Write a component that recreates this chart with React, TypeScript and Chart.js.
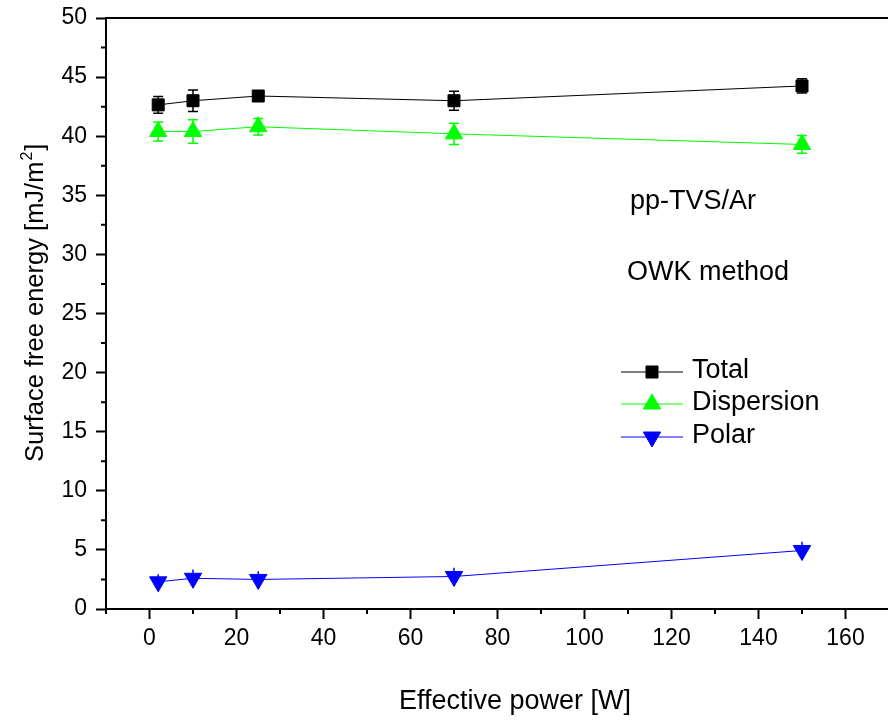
import React, { useEffect, useRef } from 'react';
import { Chart, registerables } from 'chart.js';

Chart.register(...registerables);

// ---- data ----
const POWER = [2, 10, 25, 70, 150];
const TOTAL = [42.65, 43.0, 43.4, 43.0, 44.25];
const TOTAL_ERR = [0.7, 0.9, 0.3, 0.8, 0.6];
const DISPERSION = [40.4, 40.4, 40.8, 40.2, 39.3];
const DISPERSION_ERR = [0.8, 1.0, 0.7, 0.9, 0.75];
const POLAR = [2.3, 2.6, 2.5, 2.75, 4.95];
const POLAR_ERR = [0.65, 0.75, 0.7, 0.75, 0.75];

const X_TICKS = [0, 20, 40, 60, 80, 100, 120, 140, 160];
const X_MINOR = [-10, 10, 30, 50, 70, 90, 110, 130, 150, 170];
const Y_TICKS = [0, 5, 10, 15, 20, 25, 30, 35, 40, 45, 50];
const Y_MINOR = [2.5, 7.5, 12.5, 17.5, 22.5, 27.5, 32.5, 37.5, 42.5, 47.5];

const SERIES_NAMES = ['Total', 'Dispersion', 'Polar'];
const SERIES_COLORS = ['#000000', '#00ff00', '#0000ff'];

const X_TITLE = 'Effective power [W]';
const Y_TITLE = 'Surface free energy [mJ/m';
const Y_TITLE_SUP = '2';
const Y_TITLE_END = ']';
const NOTES = ['pp-TVS/Ar', 'OWK method'];

const FONT = '"Liberation Sans", Arial, Helvetica, sans-serif';

function drawMarker(ctx: CanvasRenderingContext2D, style: string, x: number, y: number, r: number, color: string) {
  ctx.save();
  ctx.fillStyle = color;
  ctx.strokeStyle = color;
  ctx.lineWidth = 1;
  ctx.beginPath();
  if (style === 'rect') {
    const s = Math.SQRT1_2 * r;
    ctx.rect(x - s, y - s, 2 * s, 2 * s);
  } else {
    const dir = style === 'down' ? -1 : 1;
    const w = Math.sin((2 * Math.PI) / 3) * r;
    ctx.moveTo(x, y - dir * r);
    ctx.lineTo(x + w, y + dir * r * 0.5);
    ctx.lineTo(x - w, y + dir * r * 0.5);
    ctx.closePath();
  }
  ctx.fill();
  ctx.stroke();
  ctx.restore();
}

const errorBarPlugin = {
  id: 'errorBars',
  beforeDatasetsDraw(chart: any) {
    const ctx = chart.ctx;
    const xs = chart.scales.x;
    const ys = chart.scales.y;
    chart.data.datasets.forEach((ds: any) => {
      const errs: number[] = ds.errors;
      ctx.save();
      ctx.strokeStyle = ds.borderColor;
      ctx.lineWidth = 1.5;
      ds.data.forEach((p: any, j: number) => {
        const e = errs[j];
        const x = xs.getPixelForValue(p.x);
        const yt = ys.getPixelForValue(p.y + e);
        const yb = ys.getPixelForValue(p.y - e);
        ctx.beginPath();
        ctx.moveTo(x, yt);
        ctx.lineTo(x, yb);
        if (ds.caps) {
          ctx.moveTo(x - 5, yt);
          ctx.lineTo(x + 5, yt);
          ctx.moveTo(x - 5, yb);
          ctx.lineTo(x + 5, yb);
        }
        ctx.stroke();
      });
      ctx.restore();
    });
  },
};

const framePlugin = {
  id: 'frame',
  afterDraw(chart: any) {
    const ctx = chart.ctx;
    const { left, right, top, bottom } = chart.chartArea;
    const xs = chart.scales.x;
    const ys = chart.scales.y;
    ctx.save();
    ctx.strokeStyle = '#000';
    ctx.lineWidth = 2;
    ctx.beginPath();
    ctx.moveTo(left - 1, top);
    ctx.lineTo(right, top);
    ctx.lineTo(right, bottom);
    ctx.stroke();
    // minor ticks
    ctx.beginPath();
    X_MINOR.forEach((v) => {
      const x = xs.getPixelForValue(v);
      ctx.moveTo(x, bottom);
      ctx.lineTo(x, bottom + 5);
    });
    Y_MINOR.forEach((v) => {
      const y = ys.getPixelForValue(v);
      ctx.moveTo(left, y);
      ctx.lineTo(left - 5, y);
    });
    ctx.stroke();

    // titles
    ctx.fillStyle = '#000';
    ctx.font = `27px ${FONT}`;
    ctx.textAlign = 'center';
    ctx.textBaseline = 'alphabetic';
    ctx.fillText(X_TITLE, 515, 709);

    // y title rotated
    ctx.save();
    ctx.translate(43, 462);
    ctx.rotate(-Math.PI / 2);
    ctx.textAlign = 'left';
    ctx.font = `25.5px ${FONT}`;
    ctx.fillText(Y_TITLE, 0, 0);
    const w1 = ctx.measureText(Y_TITLE).width;
    ctx.font = `16px ${FONT}`;
    ctx.fillText(Y_TITLE_SUP, w1 + 1, -11);
    const w2 = ctx.measureText(Y_TITLE_SUP).width;
    ctx.font = `25.5px ${FONT}`;
    ctx.fillText(Y_TITLE_END, w1 + w2 + 2, 0);
    ctx.restore();

    // notes
    ctx.textAlign = 'left';
    ctx.font = `27px ${FONT}`;
    ctx.fillText(NOTES[0], 630, 209);
    ctx.fillText(NOTES[1], 627, 280);

    // legend
    const rowsY = [372, 404, 437];
    const styles = ['rect', 'up', 'down'];
    const radii = [8.5, 10, 10];
    SERIES_NAMES.forEach((name, i) => {
      const y = rowsY[i];
      ctx.strokeStyle = SERIES_COLORS[i];
      ctx.lineWidth = 1;
      ctx.beginPath();
      ctx.moveTo(621, y);
      ctx.lineTo(683, y);
      ctx.stroke();
      drawMarker(ctx, styles[i], 652, y, radii[i], SERIES_COLORS[i]);
      ctx.fillStyle = '#000';
      ctx.font = `27px ${FONT}`;
      ctx.textBaseline = 'middle';
      ctx.fillText(name, 692, y - 1);
    });
    ctx.restore();
  },
};

export default function App() {
  const ref = useRef<HTMLCanvasElement | null>(null);

  useEffect(() => {
    if (!ref.current) return;
    const mk = (vals: number[]) => POWER.map((x, i) => ({ x, y: vals[i] }));
    const chart = new Chart(ref.current, {
      type: 'line',
      data: {
        datasets: [
          {
            label: SERIES_NAMES[0],
            data: mk(TOTAL),
            errors: TOTAL_ERR,
            caps: true,
            borderColor: SERIES_COLORS[0],
            backgroundColor: SERIES_COLORS[0],
            borderWidth: 1,
            pointStyle: 'rect',
            pointRadius: 8.5,
            pointBorderWidth: 1,
            pointBackgroundColor: SERIES_COLORS[0],
            pointBorderColor: SERIES_COLORS[0],
          } as any,
          {
            label: SERIES_NAMES[1],
            data: mk(DISPERSION),
            errors: DISPERSION_ERR,
            caps: true,
            borderColor: SERIES_COLORS[1],
            backgroundColor: SERIES_COLORS[1],
            borderWidth: 1,
            pointStyle: 'triangle',
            pointRadius: 10,
            pointBorderWidth: 1,
            pointBackgroundColor: SERIES_COLORS[1],
            pointBorderColor: SERIES_COLORS[1],
          } as any,
          {
            label: SERIES_NAMES[2],
            data: mk(POLAR),
            errors: POLAR_ERR,
            caps: false,
            borderColor: SERIES_COLORS[2],
            backgroundColor: SERIES_COLORS[2],
            borderWidth: 1,
            pointStyle: 'triangle',
            pointRotation: 180,
            pointRadius: 10,
            pointBorderWidth: 1,
            pointBackgroundColor: SERIES_COLORS[2],
            pointBorderColor: SERIES_COLORS[2],
          } as any,
        ],
      },
      options: {
        animation: false,
        responsive: false,
        maintainAspectRatio: false,
        devicePixelRatio: 1,
        layout: { padding: { top: 18, right: 6, left: 0, bottom: 0 } },
        plugins: {
          legend: { display: false },
          tooltip: { enabled: false },
          title: { display: false },
        },
        elements: { line: { tension: 0 } },
        scales: {
          x: {
            type: 'linear',
            min: -10,
            max: 170,
            afterBuildTicks: (s: any) => {
              s.ticks = X_TICKS.map((v) => ({ value: v }));
            },
            afterFit: (s: any) => {
              s.height = 111;
              s.paddingLeft = 0;
              s.paddingRight = 0;
            },
            border: { display: true, color: '#000', width: 2 },
            grid: {
              display: true,
              drawOnChartArea: false,
              drawTicks: true,
              tickLength: 10,
              tickWidth: 2,
              tickColor: '#000',
            },
            ticks: {
              color: '#000',
              font: { family: FONT, size: 23 },
              padding: 6,
              maxRotation: 0,
              autoSkip: false,
            },
          },
          y: {
            type: 'linear',
            min: 0,
            max: 50,
            afterBuildTicks: (s: any) => {
              s.ticks = Y_TICKS.map((v) => ({ value: v }));
            },
            afterFit: (s: any) => {
              s.width = 106;
              s.paddingTop = 0;
              s.paddingBottom = 0;
            },
            border: { display: true, color: '#000', width: 2 },
            grid: {
              display: true,
              drawOnChartArea: false,
              drawTicks: true,
              tickLength: 10,
              tickWidth: 2,
              tickColor: '#000',
            },
            ticks: {
              color: '#000',
              font: { family: FONT, size: 23 },
              padding: 9,
              autoSkip: false,
            },
          },
        },
      },
      plugins: [errorBarPlugin, framePlugin],
    } as any);
    return () => chart.destroy();
  }, []);

  return (
    <div
      style={{
        position: 'fixed',
        left: 0,
        top: 0,
        width: 888,
        height: 720,
        overflow: 'hidden',
        background: '#fff',
      }}
    >
      <canvas ref={ref} width={900} height={720} style={{ display: 'block', width: 900, height: 720 }} />
    </div>
  );
}
